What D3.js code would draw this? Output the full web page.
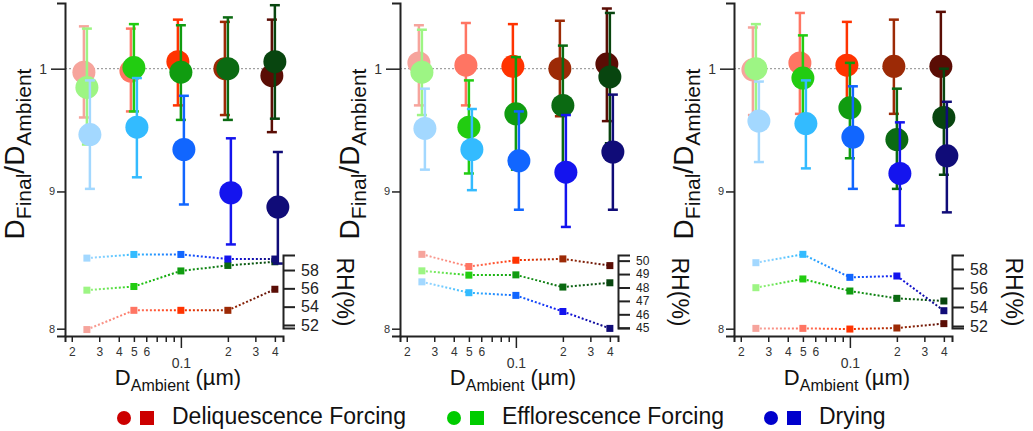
<!DOCTYPE html>
<html><head><meta charset="utf-8">
<script src="https://cdn.jsdelivr.net/npm/d3@7"></script>
<style>body{margin:0;background:#fff;} svg{display:block;font-family:Arial,"Liberation Sans",sans-serif;}</style>
</head><body><svg id="c" width="1033" height="431"></svg>
<script>
// ---------- data ----------
const sizes = [0.025, 0.05, 0.1, 0.2, 0.4];
const seriesNames = ["Deliquescence Forcing", "Efflorescence Forcing", "Drying"];
const yTickVals = [0.8, 0.9, 1];
const yTickLabels = ["8", "9", "1"];
const xTickVals = [0.02,0.03,0.04,0.05,0.06,0.07,0.08,0.09,0.1,0.2,0.3,0.4];
const xTickLabels = ["2","3","4","5","6","","","","0.1","2","3","4"];
const rhTicksA = [52, 54, 56, 58];
const rhTicksB = [45, 46, 47, 48, 49, 50];

// panel 1
const p1DeliqD  = [0.997, 0.998, 1.006, 1.000, 0.994];
const p1DeliqHi = [1.037, 1.035, 1.043, 1.041, 1.043];
const p1DeliqLo = [0.959, 0.964, 0.969, 0.961, 0.947];
const p1EffloD  = [0.984, 1.001, 0.997, 1.000, 1.006];
const p1EffloHi = [1.035, 1.039, 1.038, 1.045, 1.056];
const p1EffloLo = [0.937, 0.964, 0.957, 0.957, 0.958];
const p1DryD    = [0.945, 0.951, 0.933, 0.899, 0.888];
const p1DryHi   = [0.990, 0.992, 0.977, 0.942, 0.931];
const p1DryLo   = [0.902, 0.911, 0.890, 0.860, 0.846];
const p1RHDeliq = [51.5, 53.6, 53.6, 53.6, 55.9];
const p1RHEfflo = [55.8, 56.2, 57.9, 58.5, 58.9];
const p1RHDry   = [59.3, 59.7, 59.7, 59.2, 59.2];

// panel 2
const p2DeliqD  = [1.005, 1.003, 1.002, 1.000, 1.004];
const p2DeliqHi = [1.038, 1.040, 1.039, 1.042, 1.053];
const p2DeliqLo = [0.969, 0.969, 0.966, 0.960, 0.956];
const p2EffloD  = [0.997, 0.951, 0.962, 0.969, 0.993];
const p2EffloHi = [1.034, 0.990, 1.010, 1.020, 1.049];
const p2EffloLo = [0.961, 0.914, 0.917, 0.920, 0.938];
const p2DryD    = [0.950, 0.933, 0.924, 0.915, 0.931];
const p2DryHi   = [0.983, 0.966, 0.964, 0.961, 0.978];
const p2DryLo   = [0.917, 0.901, 0.886, 0.873, 0.886];
const p2RHDeliq = [50.47, 49.56, 50.03, 50.13, 49.63];
const p2RHEfflo = [49.24, 48.92, 48.94, 48.03, 48.35];
const p2RHDry   = [48.42, 47.61, 47.41, 46.21, 44.95];

// panel 3
const p3DeliqD  = [0.999, 1.005, 1.003, 1.002, 1.002];
const p3DeliqHi = [1.036, 1.049, 1.041, 1.043, 1.050];
const p3DeliqLo = [0.961, 0.962, 0.965, 0.962, 0.958];
const p3EffloD  = [1.000, 0.992, 0.967, 0.941, 0.959];
const p3EffloHi = [1.039, 1.029, 1.005, 0.983, 1.000];
const p3EffloLo = [0.961, 0.955, 0.926, 0.902, 0.913];
const p3DryD    = [0.956, 0.954, 0.943, 0.914, 0.928];
const p3DryHi   = [0.989, 0.990, 0.985, 0.955, 0.972];
const p3DryLo   = [0.923, 0.918, 0.902, 0.874, 0.884];
const p3RHDeliq = [51.75, 51.75, 51.68, 51.79, 52.25];
const p3RHEfflo = [56.03, 56.95, 55.68, 54.91, 54.63];
const p3RHDry   = [58.66, 59.54, 57.12, 57.26, 53.61];

// ---------- styles ----------
const palettes = [
  ["#f6a49c", "#ff7563", "#ff3300", "#9c2a06", "#5a0d05"],
  ["#9df584", "#22cc11", "#109c10", "#0b6a12", "#08450f"],
  ["#a3d8ff", "#33bbff", "#1166ff", "#1414ee", "#100c78"]
];
const legendColors = ["#cc0000", "#00cc00", "#0000cc"];
const seriesDx = [-3, 0, 3];
const panelLeft = [65, 400, 734];
const panelW = 218;

const panels = [
  {D:[p1DeliqD,p1EffloD,p1DryD], hi:[p1DeliqHi,p1EffloHi,p1DryHi], lo:[p1DeliqLo,p1EffloLo,p1DryLo],
   rh:[p1RHDeliq,p1RHEfflo,p1RHDry], rhTicks:rhTicksA, rhDomain:[51.67,59.64], rhFont:16},
  {D:[p2DeliqD,p2EffloD,p2DryD], hi:[p2DeliqHi,p2EffloHi,p2DryHi], lo:[p2DeliqLo,p2EffloLo,p2DryLo],
   rh:[p2RHDeliq,p2RHEfflo,p2RHDry], rhTicks:rhTicksB, rhDomain:[44.98,50.42], rhFont:12},
  {D:[p3DeliqD,p3EffloD,p3DryD], hi:[p3DeliqHi,p3EffloHi,p3DryHi], lo:[p3DeliqLo,p3EffloLo,p3DryLo],
   rh:[p3RHDeliq,p3RHEfflo,p3RHDry], rhTicks:rhTicksA, rhDomain:[51.79,59.47], rhFont:16}
];

const svg = d3.select("#c");
const defs = svg.append("defs");
let gradId = 0;

panels.forEach((p, pi) => {
  const left = panelLeft[pi];
  const x = d3.scaleLog().domain([0.0181, 0.451]).range([left, left + panelW]);
  const y = d3.scaleLog().domain([0.795, 1.058]).range([336, 3]);
  const yr = d3.scaleLinear().domain(p.rhDomain).range([328, 255]);
  const g = svg.append("g");

  // reference line at 1
  g.append("line")
    .attr("x1", left).attr("x2", x(0.4) + 6)
    .attr("y1", y(1)).attr("y2", y(1))
    .attr("stroke", "#8a8a8a").attr("stroke-width", 1).attr("stroke-dasharray", "2,2");

  // RH dotted lines with gradients
  p.rh.forEach((vals, si) => {
    const pal = palettes[si];
    for (let j = 0; j < vals.length - 1; j++) {
      const id = "g" + (gradId++);
      const x1 = x(sizes[j]), y1 = yr(vals[j]), x2 = x(sizes[j+1]), y2 = yr(vals[j+1]);
      const lg = defs.append("linearGradient").attr("id", id)
        .attr("gradientUnits", "userSpaceOnUse")
        .attr("x1", x1).attr("y1", y1).attr("x2", x2).attr("y2", y2);
      lg.append("stop").attr("offset", 0).attr("stop-color", pal[j]);
      lg.append("stop").attr("offset", 1).attr("stop-color", pal[j+1]);
      g.append("line").attr("x1", x1).attr("y1", y1).attr("x2", x2).attr("y2", y2)
        .attr("stroke", `url(#${id})`).attr("stroke-width", 2).attr("stroke-dasharray", "2,2");
    }
    g.selectAll(null).data(vals).enter().append("rect")
      .attr("x", (d, j) => x(sizes[j]) - 3.5).attr("y", d => yr(d) - 3.5)
      .attr("width", 7).attr("height", 7)
      .attr("fill", (d, j) => pal[j]);
  });

  // error bars + circles
  p.D.forEach((vals, si) => {
    const pal = palettes[si];
    const dx = seriesDx[si];
    vals.forEach((v, j) => {
      const cx = x(sizes[j]) + dx;
      const yh = y(p.hi[si][j]), yl = y(p.lo[si][j]);
      const c = pal[j];
      g.append("line").attr("x1", cx).attr("x2", cx).attr("y1", yh).attr("y2", yl)
        .attr("stroke", c).attr("stroke-width", 2.5);
      [yh, yl].forEach(yy => g.append("line").attr("x1", cx - 5).attr("x2", cx + 5)
        .attr("y1", yy).attr("y2", yy).attr("stroke", c).attr("stroke-width", 2.5));
    });
    g.selectAll(null).data(vals).enter().append("circle")
      .attr("cx", (d, j) => x(sizes[j]) + dx).attr("cy", d => y(d))
      .attr("r", 11.5).attr("fill", (d, j) => pal[j]);
  });

  // left axis
  const ya = g.append("g").attr("transform", `translate(${left},0)`)
    .call(d3.axisLeft(y).tickValues(yTickVals).tickFormat((d, i) => yTickLabels[i]).tickSizeOuter(0).tickSize(8).tickPadding(3));
  ya.select(".domain").attr("stroke", "#222").attr("stroke-width", 2);
  ya.selectAll(".tick line").attr("stroke", "#222").attr("stroke-width", 1.5)
    .attr("x2", d => d === 1 ? -14 : -8);
  ya.selectAll(".tick text").attr("fill", "#333").attr("font-family", "Arial, sans-serif")
    .attr("font-size", d => d === 1 ? 14 : 11)
    .attr("x", d => d === 1 ? -18 : -10);

  // bottom axis
  const xa = g.append("g").attr("transform", `translate(0,336)`)
    .call(d3.axisBottom(x).tickValues(xTickVals).tickFormat((d, i) => xTickLabels[i]).tickSizeOuter(0).tickSize(6).tickPadding(4));
  xa.select(".domain").attr("stroke", "#222").attr("stroke-width", 2);
  xa.selectAll(".tick line").attr("stroke", "#222").attr("stroke-width", 1.5)
    .attr("y2", d => d === 0.1 ? 12 : 6);
  xa.selectAll(".tick text").attr("fill", "#333").attr("font-family", "Arial, sans-serif")
    .attr("font-size", d => d === 0.1 ? 14 : 12)
    .attr("y", d => d === 0.1 ? 22 : 11);

  // right RH axis
  const rx = left + panelW;
  const ra = g.append("g").attr("transform", `translate(${rx},0)`)
    .call(d3.axisRight(yr).tickValues(p.rhTicks).tickFormat(d3.format("d")).tickSizeOuter(0).tickSize(12).tickPadding(6));
  ra.select(".domain").attr("stroke", "#222").attr("stroke-width", 2);
  ra.selectAll(".tick line").attr("stroke", "#222").attr("stroke-width", 2);
  ra.selectAll(".tick text").attr("fill", "#222").attr("font-family", "Arial, sans-serif").attr("font-size", p.rhFont);

  // y label
  const yl = g.append("text").attr("transform", `translate(${left - 41},154) rotate(-90)`)
    .attr("text-anchor", "middle").attr("font-size", 28).attr("fill", "#111");
  yl.append("tspan").text("D");
  yl.append("tspan").attr("font-size", 21).attr("dy", 7).text("Final");
  yl.append("tspan").attr("dy", -7).text("/D");
  yl.append("tspan").attr("font-size", 21).attr("dy", 7).text("Ambient");

  // x label
  const xl = g.append("text").attr("x", left + 113).attr("y", 385)
    .attr("text-anchor", "middle").attr("font-size", 22).attr("fill", "#111");
  xl.append("tspan").text("D");
  xl.append("tspan").attr("font-size", 16).attr("dy", 6).text("Ambient");
  xl.append("tspan").attr("dy", -6).text(" (\u00b5m)");

  // RH label
  g.append("text").attr("transform", `translate(${rx + 62},292) rotate(90)`)
    .attr("text-anchor", "middle").attr("dominant-baseline", "central")
    .attr("font-size", 23).attr("fill", "#111").text("RH(%)");
});

// legend
const legendX = [124, 454, 771];
const lg = svg.append("g");
seriesNames.forEach((name, i) => {
  const cx = legendX[i];
  lg.append("circle").attr("cx", cx).attr("cy", 418).attr("r", 7).attr("fill", legendColors[i]);
  lg.append("rect").attr("x", cx + 16).attr("y", 411).attr("width", 14).attr("height", 14).attr("fill", legendColors[i]);
  lg.append("text").attr("x", cx + 48).attr("y", 424).attr("font-size", 23).attr("fill", "#111").text(name);
});
</script></body></html>
